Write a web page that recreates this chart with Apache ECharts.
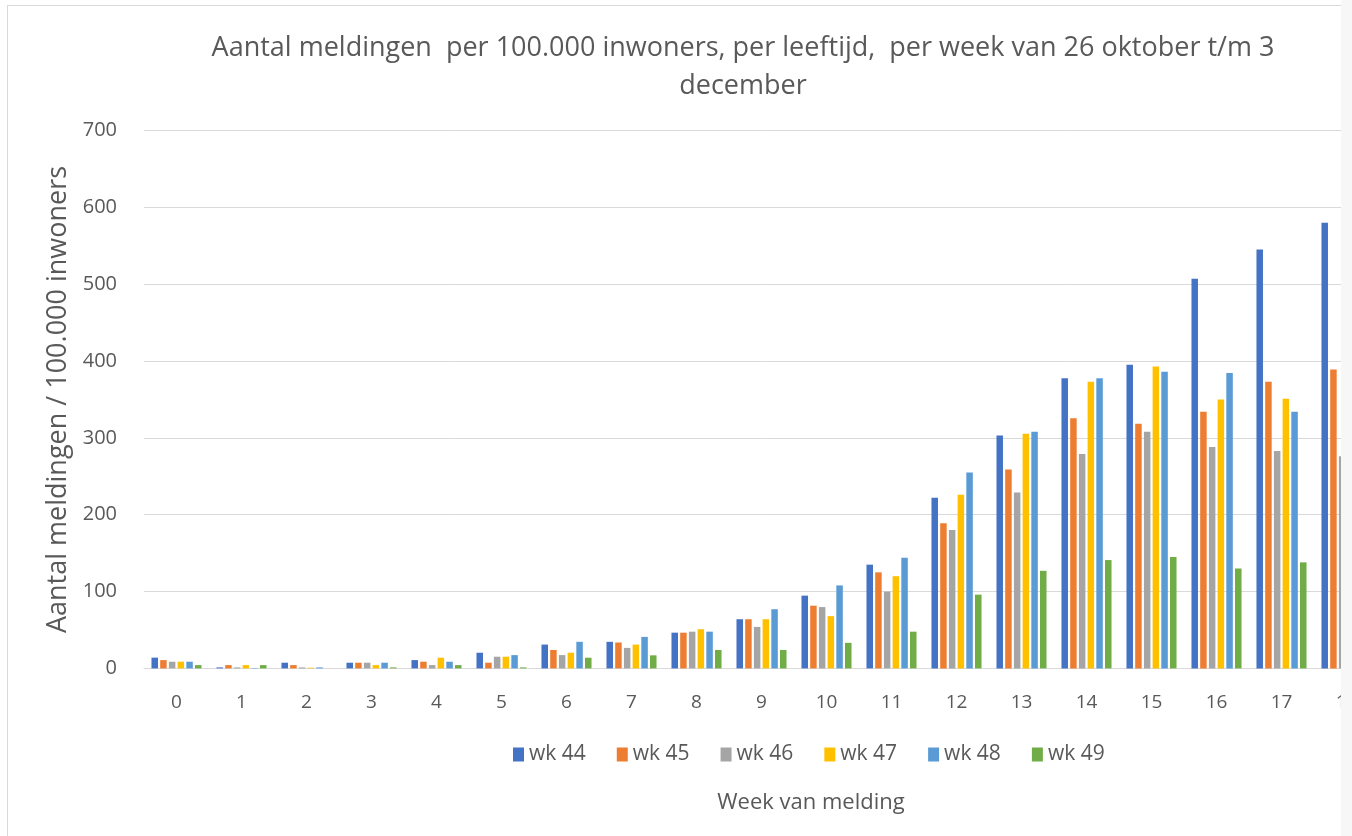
<!DOCTYPE html>
<html>
<head>
<meta charset="utf-8">
<script src="https://cdn.jsdelivr.net/npm/echarts@6/dist/echarts.min.js"></script>
<style>
  html, body { margin: 0; padding: 0; background: #ffffff; }
  #clip { position: absolute; left: 0; top: 0; width: 1341px; height: 836px; overflow: hidden; background: #ffffff; }
  #chart { position: absolute; left: 0; top: 0; width: 1400px; height: 836px; }
  .bline { position: absolute; background: #d9d9d9; }
  #rest { position: absolute; left: 1341px; top: 0; width: 11px; height: 836px; background: #f7f7f7; }
</style>
</head>
<body>
<div id="clip"><div id="chart"></div></div>
<div id="rest"></div>
<div class="bline" style="left:7px;top:5px;width:1334px;height:1px;"></div>
<div class="bline" style="left:7px;top:5px;width:1px;height:831px;"></div>
<script>
const categories = ['0','1','2','3','4','5','6','7','8','9','10','11','12','13','14','15','16','17','18'];
const seriesNames = ['wk 44','wk 45','wk 46','wk 47','wk 48','wk 49'];
const wk44 = [14, 1.3, 7.4, 7.4, 10.8, 20.4, 31, 34.6, 46.5, 64, 94.7, 135, 222, 303, 377.5, 395, 507, 545, 580];
const wk45 = [10.8, 4.3, 4.3, 7.4, 8.7, 7.4, 24, 33.7, 46.5, 64, 81.6, 125, 189, 259, 325.5, 318.5, 334, 373, 389];
const wk46 = [8.7, 1.3, 1.3, 7.4, 4.3, 15.2, 17.3, 26.7, 47.8, 54, 79.8, 100, 180, 229, 279, 308, 288, 283, 276];
const wk47 = [8.7, 4.3, 0.9, 4.3, 13.9, 15.2, 20.4, 31, 51, 64, 68, 120, 226, 305.5, 373, 393, 350, 351, null];
const wk48 = [8.7, 0.5, 1.3, 7.4, 8.7, 17.3, 34.6, 41, 47.8, 77, 108, 144, 255, 308, 377.5, 386, 384.5, 334, null];
const wk49 = [4.3, 4.3, 0, 1.3, 4.3, 1.3, 13.9, 17, 24, 24, 33.3, 47.8, 96, 127, 141, 145, 130, 138, null];
const yTicks = [0, 100, 200, 300, 400, 500, 600, 700];

const allData = [wk44, wk45, wk46, wk47, wk48, wk49];
const colors = ['#4472C4', '#ED7D31', '#A5A5A5', '#FFC000', '#5B9BD5', '#70AD47'];
const FONT = '"Open Sans", "Noto Sans", sans-serif';
const TXT = '#595959';

const chart = echarts.init(document.getElementById('chart'), null, { renderer: 'canvas' });
chart.setOption({
  animation: false,
  backgroundColor: '#ffffff',
  color: colors,
  title: [
    {
      text: 'Aantal meldingen  per 100.000 inwoners, per leeftijd,  per week van 26 oktober t/m 3\ndecember',
      left: 738, top: 24, textAlign: 'center',
      textStyle: { fontFamily: FONT, fontSize: 27, fontWeight: 'normal', color: TXT, lineHeight: 38 }
    },
    {
      text: 'Week van melding',
      left: 806, top: 787, textAlign: 'center',
      textStyle: { fontFamily: FONT, fontSize: 22, fontWeight: 'normal', color: TXT }
    }
  ],
  legend: {
    data: seriesNames,
    left: 508, top: 739,
    itemWidth: 11, itemHeight: 14, itemGap: 31,
    icon: 'rect',
    textStyle: { fontFamily: FONT, fontSize: 21, color: TXT }
  },
  grid: { left: 144, right: 21, top: 130.5, bottom: 167.6, containLabel: false },
  xAxis: {
    type: 'category',
    data: categories,
    axisLine: { show: true, lineStyle: { color: '#d9d9d9', width: 1 } },
    axisTick: { show: false },
    axisLabel: { fontFamily: FONT, fontSize: 19, color: TXT, margin: 25 }
  },
  yAxis: {
    type: 'value',
    min: 0, max: 700, interval: 100,
    name: 'Aantal meldingen / 100.000 inwoners',
    nameLocation: 'middle', nameGap: 66,
    nameTextStyle: { fontFamily: FONT, fontSize: 27, color: TXT },
    axisLine: { show: false },
    axisTick: { show: false },
    splitLine: { lineStyle: { color: '#d9d9d9', width: 1 } },
    axisLabel: {
      fontFamily: FONT, fontSize: 20, color: TXT, margin: 27,
      formatter: function (v) { return yTicks.indexOf(v) >= 0 ? String(v) : ''; }
    }
  },
  series: seriesNames.map((n, i) => ({
    name: n,
    type: 'bar',
    data: allData[i],
    barGap: '34%',
    barCategoryGap: '23%'
  }))
});
</script>
</body>
</html>
